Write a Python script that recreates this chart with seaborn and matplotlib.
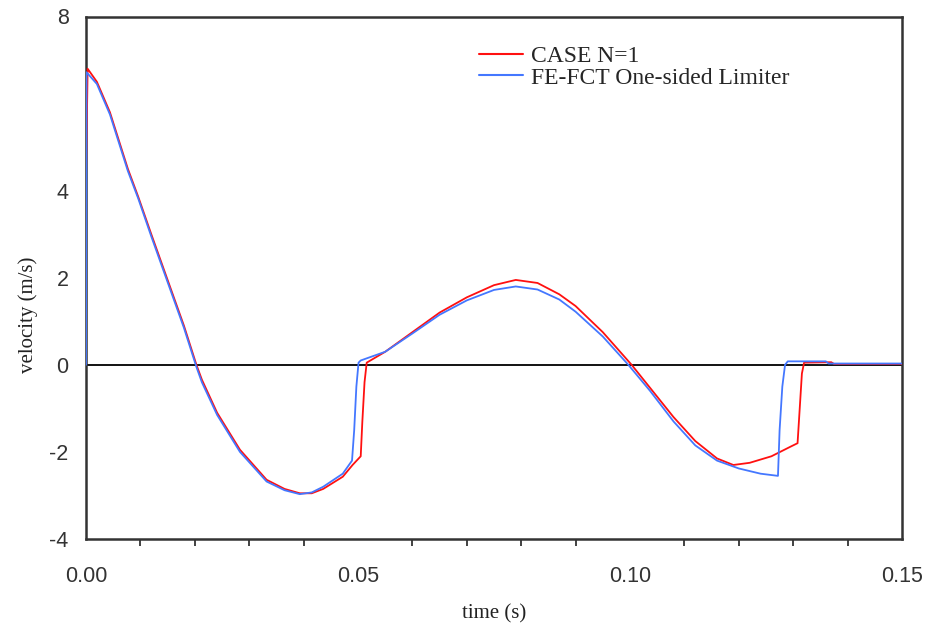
import numpy as np
import pandas as pd
import matplotlib
matplotlib.use("Agg")
import matplotlib.pyplot as plt
import seaborn as sns
from matplotlib.ticker import MultipleLocator, FixedLocator

# ---- data ----
series_names = ["CASE N=1", "FE-FCT One-sided Limiter"]

red_t = [0.0, 0.0003, 0.002, 0.0044, 0.0077, 0.0096, 0.012, 0.015, 0.018, 0.0203,
         0.0213, 0.0241, 0.0283, 0.0332, 0.0365, 0.0393, 0.0415, 0.0436, 0.0472,
         0.049, 0.0505, 0.0508, 0.0512, 0.0516, 0.055, 0.06, 0.065, 0.07, 0.075,
         0.079, 0.083, 0.087, 0.09, 0.095, 0.1003, 0.1037, 0.108, 0.112, 0.116,
         0.119, 0.122, 0.126, 0.1295, 0.1308, 0.1312, 0.1316, 0.132, 0.137,
         0.1375, 0.15]
red_v = [4.3, 6.8, 6.5, 5.8, 4.5, 3.86, 3.0, 1.95, 0.9, 0.0,
         -0.34, -1.1, -1.95, -2.64, -2.85, -2.95, -2.95, -2.85, -2.57,
         -2.3, -2.1, -1.3, -0.4, 0.05, 0.3, 0.75, 1.2, 1.55, 1.83,
         1.95, 1.88, 1.62, 1.35, 0.75, 0.0, -0.53, -1.2, -1.75, -2.15,
         -2.3, -2.25, -2.1, -1.88, -1.8, -1.0, -0.2, 0.05, 0.06,
         0.02, 0.02]

blue_t = [0.0, 0.0001, 0.002, 0.0044, 0.0077, 0.0096, 0.012, 0.015, 0.018, 0.0203,
          0.0213, 0.0241, 0.0283, 0.0332, 0.0365, 0.0393, 0.0415, 0.0436, 0.0472,
          0.0489, 0.0493, 0.0497, 0.0501, 0.0505, 0.055, 0.06, 0.065, 0.07, 0.075,
          0.079, 0.083, 0.087, 0.09, 0.095, 0.0997, 0.1037, 0.108, 0.112, 0.116,
          0.12, 0.124, 0.1272, 0.1275, 0.128, 0.1285, 0.129, 0.136, 0.1365, 0.15]
blue_v = [0.0, 6.72, 6.45, 5.75, 4.45, 3.82, 2.95, 1.9, 0.85, -0.05,
          -0.4, -1.15, -2.0, -2.68, -2.88, -2.97, -2.93, -2.8, -2.5,
          -2.2, -1.5, -0.5, 0.05, 0.1, 0.3, 0.72, 1.15, 1.48, 1.72,
          1.8, 1.73, 1.5, 1.22, 0.65, 0.0, -0.6, -1.3, -1.85, -2.2,
          -2.38, -2.5, -2.55, -1.5, -0.5, 0.0, 0.08, 0.08, 0.03, 0.03]

y_ticks = [-4, -2, 0, 2, 4, 6, 8]
y_tick_labels = ["-4", "-2", "0", "2", "4", "", "8"]
x_ticks = [0.00, 0.05, 0.10, 0.15]
x_tick_labels = ["0.00", "0.05", "0.10", "0.15"]

df = pd.concat([
    pd.DataFrame({"time": red_t, "velocity": red_v, "series": series_names[0]}),
    pd.DataFrame({"time": blue_t, "velocity": blue_v, "series": series_names[1]}),
], ignore_index=True)

sns.set_theme(style="white")
plt.rcParams["font.family"] = ["Liberation Serif", "DejaVu Serif"]

fig = plt.figure(figsize=(9.25, 6.34), dpi=100)
ax = fig.add_axes([86/925, 1 - 539/634, (902-86)/925, (539-16.5)/634])

palette = {series_names[0]: "#FF1010", series_names[1]: "#4477FF"}
ax.axhline(0, color="black", lw=1.3, zorder=1)
sns.lineplot(data=df, x="time", y="velocity", hue="series", palette=palette,
             estimator=None, sort=False, lw=1.3, ax=ax, zorder=3)

ax.set_xlim(0, 0.15)
ax.set_ylim(-4, 8)

tick_font = {"family": ["Liberation Sans Narrow", "Liberation Sans", "DejaVu Sans"], "size": 15.5}
ax.yaxis.set_major_locator(FixedLocator(y_ticks))
ax.set_yticklabels(y_tick_labels, fontdict=tick_font, color="#333333")
ax.xaxis.set_major_locator(FixedLocator(x_ticks))
ax.set_xticklabels(x_tick_labels, fontdict=tick_font, color="#333333")
ax.xaxis.set_minor_locator(MultipleLocator(0.01))
ax.tick_params(axis="both", which="major", direction="out", length=5.5, width=1.3,
               color="#333333")
ax.tick_params(axis="x", which="minor", direction="out", length=5, width=1.3,
               color="#333333", bottom=True)
ax.tick_params(axis="y", which="major", pad=7)
ax.tick_params(axis="x", which="major", pad=14)

for s in ax.spines.values():
    s.set_visible(True)
    s.set_color("#333333")
    s.set_linewidth(1.8)

ax.set_xlabel("time (s)", fontsize=15, color="#222222", labelpad=12)
ax.set_ylabel("velocity (m/s)", fontsize=15, color="#222222", labelpad=4)
ax.yaxis.set_label_coords(-0.059, 0.43)

leg = ax.legend(loc="upper left", bbox_to_anchor=(470/925, 1 - 36/634),
                bbox_transform=fig.transFigure, frameon=False, fontsize=17,
                handlelength=1.85, handletextpad=0.35, labelspacing=0.0,
                borderaxespad=0)
for line in leg.get_lines():
    line.set_linewidth(1.5)

fig.savefig("out.png", dpi=100)
